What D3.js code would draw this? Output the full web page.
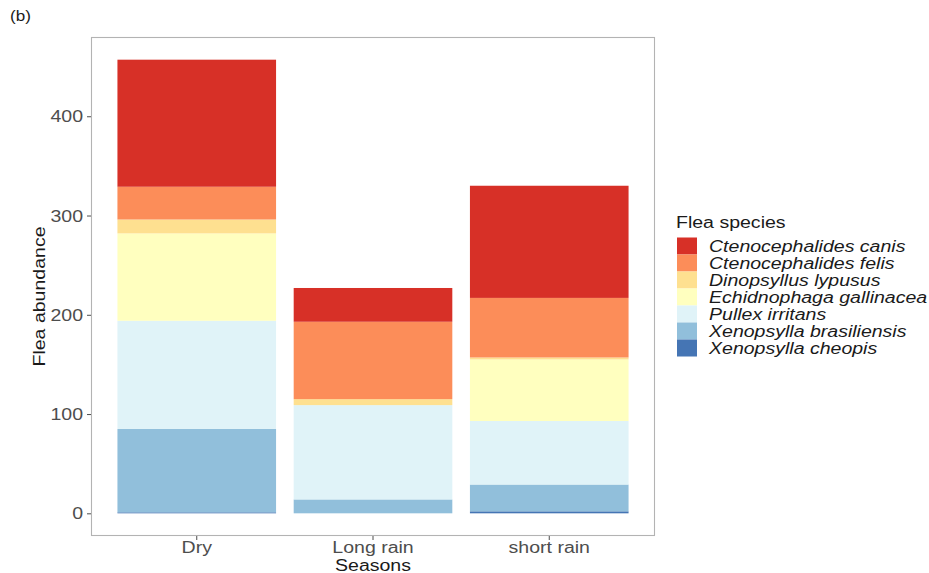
<!DOCTYPE html>
<html>
<head>
<meta charset="utf-8">
<script src="https://cdn.jsdelivr.net/npm/d3@7"></script>
<style>
  html, body { margin: 0; padding: 0; background: #fff; }
  svg { display: block; font-family: "Liberation Sans", Arial, sans-serif; }
</style>
</head>
<body>
<svg id="chart" width="929" height="573"></svg>
<script>
// Seasons on the x axis
const seasons = ["Dry", "Long rain", "short rain"];

// Flea species, in legend order (top of stack first)
const species = [
  "Ctenocephalides canis",
  "Ctenocephalides felis",
  "Dinopsyllus lypusus",
  "Echidnophaga gallinacea",
  "Pullex irritans",
  "Xenopsylla brasiliensis",
  "Xenopsylla cheopis"
];

// Abundance per season (Dry, Long rain, short rain)
const ctenocephalidesCanis   = [128, 34, 113];
const ctenocephalidesFelis   = [33, 78, 60];
const dinopsyllusLypusus     = [14, 6, 2];
const echidnophagaGallinacea = [88, 0, 62];
const pullexIrritans         = [109, 95, 64];
const xenopsyllaBrasiliensis = [84, 14, 27];
const xenopsyllaCheopis      = [1, 0, 2];

const yTicks = [0, 100, 200, 300, 400];

const speciesColors = ["#d73027", "#fc8d59", "#fee090", "#ffffbf", "#e0f3f8", "#91bfdb", "#4575b4"];

const seriesValues = [
  ctenocephalidesCanis, ctenocephalidesFelis, dinopsyllusLypusus,
  echidnophagaGallinacea, pullexIrritans, xenopsyllaBrasiliensis, xenopsyllaCheopis
];

const rows = seasons.map((s, i) => {
  const r = { season: s };
  species.forEach((sp, j) => { r[sp] = seriesValues[j][i]; });
  return r;
});

const svg = d3.select("#chart");
const panel = { left: 91, right: 655, top: 37, bottom: 536 };
const stretch = 1.22;   // wide text rendering
const fontSize = 16;

// Stretch a text node along its own baseline
function widen(sel, k) {
  sel.each(function () {
    const len = this.getComputedTextLength();
    d3.select(this).attr("textLength", len * (k || stretch)).attr("lengthAdjust", "spacingAndGlyphs");
  });
}

// Stack: last species sits at the bottom
const stack = d3.stack().keys(species.slice().reverse());
const stacked = stack(rows);

const totals = rows.map(r => d3.sum(species, sp => r[sp]));
const maxTotal = d3.max(totals);

const x = d3.scaleBand()
  .domain(seasons)
  .range([panel.left, panel.right])
  .paddingInner(0.1)
  .paddingOuter(0.15);

const y = d3.scaleLinear()
  .domain([-0.05 * maxTotal, maxTotal * 1.05])
  .range([panel.bottom, panel.top]);

const color = d3.scaleOrdinal().domain(species).range(speciesColors);

// Panel background
svg.append("rect")
  .attr("x", panel.left).attr("y", panel.top)
  .attr("width", panel.right - panel.left).attr("height", panel.bottom - panel.top)
  .attr("fill", "#fff");

// Bars
svg.append("g").selectAll("g")
  .data(stacked)
  .join("g")
  .attr("fill", d => color(d.key))
  .selectAll("rect")
  .data(d => d)
  .join("rect")
  .attr("x", d => x(d.data.season))
  .attr("width", x.bandwidth())
  .attr("y", d => y(d[1]))
  .attr("height", d => Math.max(0, y(d[0]) - y(d[1])));

// Panel border
svg.append("rect")
  .attr("x", panel.left + 0.5).attr("y", panel.top + 0.5)
  .attr("width", panel.right - panel.left - 1).attr("height", panel.bottom - panel.top - 1)
  .attr("fill", "none").attr("stroke", "#b3b3b3").attr("stroke-width", 1.1);

// Y axis
const yAxis = svg.append("g")
  .attr("transform", `translate(${panel.left},0)`)
  .call(d3.axisLeft(y).tickValues(yTicks).tickSize(4).tickPadding(4));
yAxis.select(".domain").remove();
yAxis.selectAll(".tick line").attr("stroke", "#4d4d4d");
yAxis.selectAll(".tick text")
  .attr("fill", "#4d4d4d").attr("font-size", fontSize)
  .attr("font-family", "Liberation Sans, Arial, sans-serif")
  .attr("dy", "0.35em")
  .call(widen);

// X axis
const xAxis = svg.append("g")
  .attr("transform", `translate(0,${panel.bottom})`)
  .call(d3.axisBottom(x).tickSize(4).tickPadding(2));
xAxis.select(".domain").remove();
xAxis.selectAll(".tick line").attr("stroke", "#4d4d4d");
xAxis.selectAll(".tick text")
  .attr("fill", "#4d4d4d").attr("font-size", fontSize)
  .attr("font-family", "Liberation Sans, Arial, sans-serif")
  .call(widen);

// Axis titles
svg.append("text")
  .attr("x", (panel.left + panel.right) / 2).attr("y", 571)
  .attr("text-anchor", "middle").attr("font-size", fontSize).attr("fill", "#1a1a1a")
  .text("Seasons").call(widen);

svg.append("text")
  .attr("transform", `translate(45,${(panel.top + panel.bottom) / 2 + 10}) rotate(-90)`)
  .attr("text-anchor", "middle").attr("font-size", fontSize).attr("fill", "#1a1a1a")
  .text("Flea abundance").call(widen);

// Panel tag
svg.append("text")
  .attr("x", 10).attr("y", 21)
  .attr("font-size", 14).attr("fill", "#1a1a1a")
  .text("(b)").call(widen);

// Legend
const legend = svg.append("g").attr("transform", "translate(677,0)");
legend.append("text")
  .attr("x", -1).attr("y", 228)
  .attr("font-size", fontSize).attr("fill", "#1a1a1a")
  .text("Flea species").call(widen);

const keyH = 17, keyW = 20, keyTop = 237.5;
const items = legend.selectAll("g.item")
  .data(species)
  .join("g")
  .attr("class", "item")
  .attr("transform", (d, i) => `translate(0,${keyTop + i * keyH})`);
items.append("rect")
  .attr("width", keyW).attr("height", keyH)
  .attr("fill", d => color(d));
items.append("text")
  .attr("x", 32).attr("y", keyH / 2)
  .attr("dy", "0.36em")
  .attr("font-size", fontSize).attr("font-style", "italic").attr("fill", "#1a1a1a")
  .text(d => d).call(widen);
</script>
</body>
</html>
